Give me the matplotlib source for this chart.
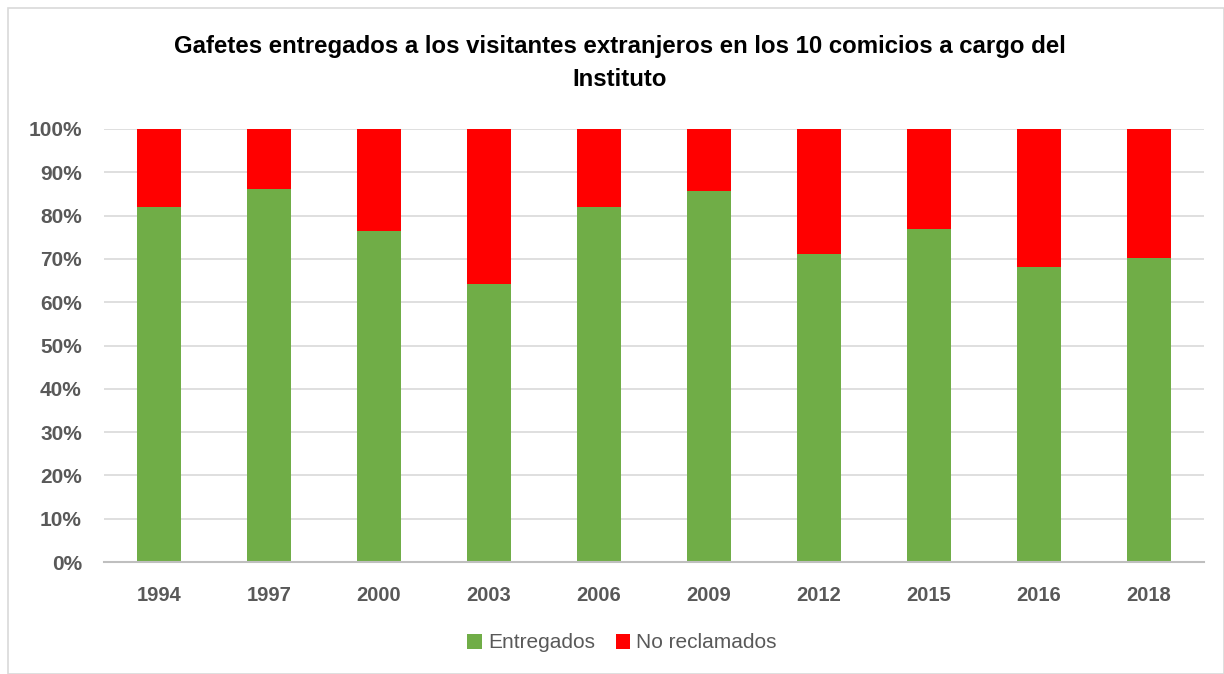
import matplotlib
matplotlib.use("Agg")
import matplotlib.pyplot as plt
from matplotlib.patches import Rectangle
from matplotlib.ticker import PercentFormatter

years = ["1994", "1997", "2000", "2003", "2006", "2009", "2012", "2015", "2016", "2018"]
entregados = [82.1, 86.2, 76.5, 64.1, 82.0, 85.6, 71.2, 77.0, 68.1, 70.3]
no_reclamados = [100 - v for v in entregados]
yticks = [0, 10, 20, 30, 40, 50, 60, 70, 80, 90, 100]

plt.rcParams['font.family'] = ['Liberation Sans', 'DejaVu Sans']

W, H = 1224, 674
fig = plt.figure(figsize=(W / 100, H / 100), dpi=100)
ax = fig.add_axes([104 / W, 1 - 562 / H, 1100 / W, 433 / H])

x = list(range(len(years)))
green = '#70AD47'
red = '#FF0000'
ax.bar(x, entregados, width=0.4, color=green, label='Entregados', zorder=3)
ax.bar(x, no_reclamados, width=0.4, bottom=entregados, color=red, label='No reclamados', zorder=3)

ax.set_xlim(-0.5, len(years) - 0.5)
ax.set_ylim(0, 100)
ax.set_yticks(yticks)
ax.yaxis.set_major_formatter(PercentFormatter(decimals=0))
ax.set_xticks(x)
ax.set_xticklabels(years)
ax.grid(axis='y', color='#D9D9D9', linewidth=1.2, zorder=0)
for s in ['top', 'right', 'left']:
    ax.spines[s].set_visible(False)
ax.spines['bottom'].set_color('#BFBFBF')
ax.spines['bottom'].set_linewidth(1.5)
ax.spines['bottom'].set_zorder(4)
ax.tick_params(axis='both', length=0, colors='#595959')
ax.tick_params(axis='y', pad=16, labelsize=15)
ax.tick_params(axis='x', pad=17, labelsize=14.5)
for lbl in ax.get_xticklabels() + ax.get_yticklabels():
    lbl.set_fontweight('bold')

fig.text(620 / W, 1 - 63 / H,
         "Gafetes entregados a los visitantes extranjeros en los 10 comicios a cargo del\nInstituto",
         ha='center', va='center', fontsize=17.3, fontweight='bold', color='black',
         linespacing=1.55)

leg = fig.legend(loc='center', bbox_to_anchor=(622 / W, 1 - 643 / H), ncol=2, frameon=False,
                 fontsize=15, handlelength=0.7, handleheight=0.7, handletextpad=0.3,
                 columnspacing=1.0)
for t in leg.get_texts():
    t.set_color('#595959')

fig.patches.append(Rectangle((8 / W, 0), 1 - 8 / W, 1 - 8 / H, transform=fig.transFigure,
                             fill=False, edgecolor='#D9D9D9', linewidth=1.2))

fig.savefig('out.png', dpi=100)
